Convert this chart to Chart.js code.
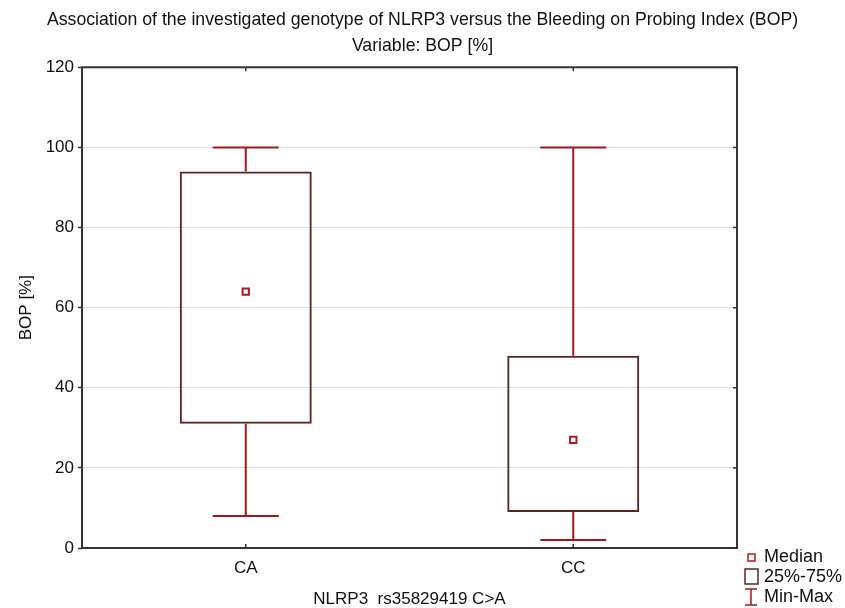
<!DOCTYPE html>
<html>
<head>
<meta charset="utf-8">
<script src="https://cdn.jsdelivr.net/npm/chart.js@4.4.1/dist/chart.umd.min.js"></script>
<style>
  html, body { margin: 0; padding: 0; background: #fff; }
</style>
</head>
<body>
<canvas id="myChart" width="845" height="608"></canvas>
<script>
// data
const genotypes = ["CA", "CC"];
const minVals = [8, 2];
const q1Vals = [31, 9];
const medianVals = [64, 27];
const q3Vals = [94, 48];
const maxVals = [100, 100];
const yTickValues = [0, 20, 40, 60, 80, 100, 120];

const FONT = "'Liberation Sans', Arial, sans-serif";
const boxColor = "#5e2424";
const whiskerColor = "#a3181d";
const medianColor = "#b3191f";
const frameColor = "#333333";

// whiskers + caps, frame and small ticks
const boxPlotExtras = {
  id: "boxPlotExtras",
  beforeDatasetsDraw(chart) {
    const { ctx, chartArea: a, scales } = chart;
    ctx.save();
    ctx.strokeStyle = frameColor;
    ctx.lineWidth = 2;
    ctx.strokeRect(a.left, a.top, a.right - a.left, a.bottom - a.top);
    ctx.lineWidth = 1.5;
    ctx.beginPath();
    // category ticks on top and bottom (inward)
    genotypes.forEach((g, i) => {
      const x = scales.x.getPixelForValue(i);
      ctx.moveTo(x, a.top); ctx.lineTo(x, a.top + 4);
      ctx.moveTo(x, a.bottom); ctx.lineTo(x, a.bottom - 4);
    });
    // value ticks on the right (inward)
    yTickValues.forEach(v => {
      const y = scales.y.getPixelForValue(v);
      ctx.moveTo(a.right, y); ctx.lineTo(a.right - 4, y);
    });
    ctx.stroke();
    ctx.restore();
  },
  afterDatasetsDraw(chart) {
    const { ctx, scales } = chart;
    const meta = chart.getDatasetMeta(0);
    ctx.save();
    ctx.strokeStyle = whiskerColor;
    ctx.lineWidth = 2;
    genotypes.forEach((g, i) => {
      const x = scales.x.getPixelForValue(i);
      const half = meta.data[i].width / 4;
      const yMin = scales.y.getPixelForValue(minVals[i]);
      const yQ1 = scales.y.getPixelForValue(q1Vals[i]);
      const yQ3 = scales.y.getPixelForValue(q3Vals[i]);
      const yMax = scales.y.getPixelForValue(maxVals[i]);
      ctx.beginPath();
      ctx.moveTo(x, yQ3); ctx.lineTo(x, yMax);
      ctx.moveTo(x - half, yMax); ctx.lineTo(x + half, yMax);
      ctx.moveTo(x, yQ1); ctx.lineTo(x, yMin);
      ctx.moveTo(x - half, yMin); ctx.lineTo(x + half, yMin);
      ctx.stroke();
    });
    ctx.restore();
  },
  afterDraw(chart) {
    // legend in the lower right corner
    const ctx = chart.ctx;
    const lx = 751, tx = 764;
    ctx.save();
    ctx.font = "18px " + FONT;
    ctx.fillStyle = "#111";
    ctx.textBaseline = "middle";
    ctx.textAlign = "left";
    // median marker
    ctx.strokeStyle = medianColor;
    ctx.lineWidth = 1.5;
    ctx.strokeRect(lx - 3, 554, 7, 7);
    ctx.fillText("Median", tx, 557);
    // box
    ctx.strokeStyle = boxColor;
    ctx.lineWidth = 1.5;
    ctx.strokeRect(lx - 6, 569, 13, 15);
    ctx.fillText("25%-75%", tx, 577);
    // min-max
    ctx.strokeStyle = whiskerColor;
    ctx.beginPath();
    ctx.moveTo(lx - 6, 589); ctx.lineTo(lx + 6, 589);
    ctx.moveTo(lx, 589); ctx.lineTo(lx, 605);
    ctx.moveTo(lx - 6, 605); ctx.lineTo(lx + 6, 605);
    ctx.stroke();
    ctx.fillText("Min-Max", tx, 597);
    ctx.restore();
  }
};

const ctx = document.getElementById("myChart").getContext("2d");

new Chart(ctx, {
  type: "bar",
  data: {
    labels: genotypes,
    datasets: [
      {
        label: "25%-75%",
        data: genotypes.map((g, i) => [q1Vals[i], q3Vals[i]]),
        backgroundColor: "rgba(0,0,0,0)",
        borderColor: boxColor,
        borderWidth: 2,
        borderSkipped: false,
        categoryPercentage: 1,
        barPercentage: 0.403,
        order: 2
      },
      {
        type: "line",
        label: "Median",
        data: medianVals,
        showLine: false,
        pointStyle: "rect",
        pointRadius: 4.5,
        pointBorderWidth: 2,
        pointBorderColor: medianColor,
        pointBackgroundColor: "#fff",
        order: 1
      }
    ]
  },
  options: {
    responsive: false,
    animation: false,
    layout: { padding: 0 },
    plugins: {
      legend: { display: false },
      tooltip: { enabled: false },
      title: {
        display: true,
        text: [
          "Association of the investigated genotype of NLRP3 versus the Bleeding on Probing Index (BOP)",
          "Variable: BOP [%]"
        ],
        color: "#111",
        font: { family: FONT, size: 17.7, weight: "normal", lineHeight: 1.42 },
        padding: { top: 8, bottom: 9 }
      }
    },
    scales: {
      x: {
        offset: true,
        grid: { display: false, drawTicks: false },
        border: { display: false },
        ticks: { color: "#111", font: { family: FONT, size: 17 }, padding: 10 },
        title: {
          display: true,
          text: "NLRP3  rs35829419 C>A",
          color: "#111",
          font: { family: FONT, size: 17 },
          padding: { top: 0, bottom: -2 }
        },
        afterFit(scale) { scale.height = 60; }
      },
      y: {
        min: 0,
        max: 120,
        afterBuildTicks(scale) { scale.ticks = yTickValues.map(v => ({ value: v })); },
        grid: { color: "#dedede", lineWidth: 1, tickLength: 4, tickColor: frameColor, tickWidth: 1.5 },
        border: { display: false },
        ticks: { color: "#111", font: { family: FONT, size: 17 }, padding: 4 },
        title: {
          display: true,
          text: "BOP [%]",
          color: "#111",
          font: { family: FONT, size: 17 },
          padding: { top: 16, bottom: 0 }
        },
        afterFit(scale) { scale.width = 82; }
      },
      // empty right axis keeps room for the legend while the title stays centred on the page
      yRight: {
        position: "right",
        display: true,
        grid: { display: false, drawTicks: false },
        border: { display: false },
        ticks: { display: false },
        afterFit(scale) { scale.width = 108; }
      }
    }
  },
  plugins: [boxPlotExtras]
});
</script>
</body>
</html>
